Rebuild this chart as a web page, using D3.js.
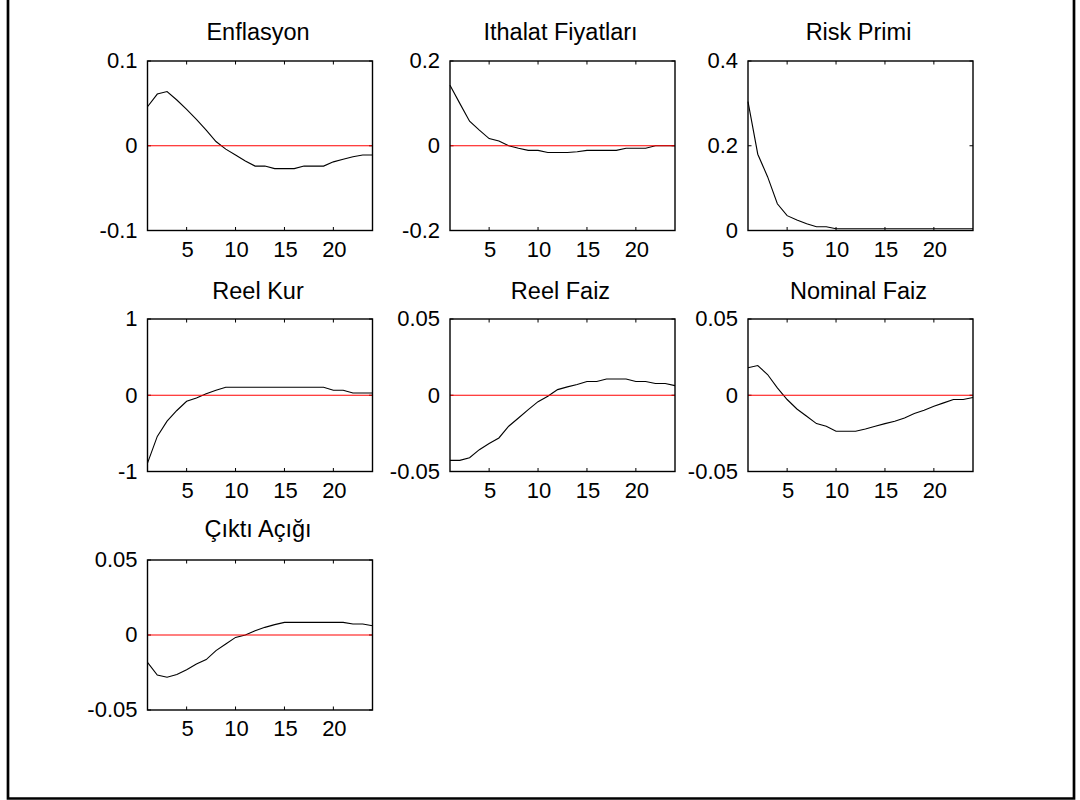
<!DOCTYPE html>
<html>
<head>
<meta charset="utf-8">
<script src="https://cdn.jsdelivr.net/npm/d3@7"></script>
<style>
  body { margin: 0; background: #fff; }
  text { font-family: Arial, "Liberation Sans", sans-serif; fill: #000; }
</style>
</head>
<body>
<div id="chart"></div>
<script>
(function() {
  // periods 1..24
  var periods = d3.range(1, 25);

  var titles = ["Enflasyon", "Ithalat Fiyatları", "Risk Primi", "Reel Kur", "Reel Faiz", "Nominal Faiz", "Çıktı Açığı"];

  var yTicks = [
    [-0.1, 0, 0.1],
    [-0.2, 0, 0.2],
    [0, 0.2, 0.4],
    [-1, 0, 1],
    [-0.05, 0, 0.05],
    [-0.05, 0, 0.05],
    [-0.05, 0, 0.05]
  ];
  var yTickLabels = [
    ["-0.1", "0", "0.1"],
    ["-0.2", "0", "0.2"],
    ["0", "0.2", "0.4"],
    ["-1", "0", "1"],
    ["-0.05", "0", "0.05"],
    ["-0.05", "0", "0.05"],
    ["-0.05", "0", "0.05"]
  ];
  var xTicks = [5, 10, 15, 20];

  var enflasyon = [0.046, 0.061, 0.064, 0.054, 0.043, 0.031, 0.0185, 0.005, -0.004, -0.011, -0.018, -0.024,
                   -0.024, -0.027, -0.027, -0.027, -0.024, -0.024, -0.024, -0.019, -0.016, -0.013, -0.011, -0.011];
  var ithalat = [0.143, 0.100, 0.058, 0.037, 0.017, 0.011, 0.0, -0.006, -0.011, -0.011, -0.016, -0.016,
                 -0.016, -0.014, -0.011, -0.011, -0.011, -0.011, -0.006, -0.006, -0.006, 0.0, 0.0, 0.0];
  var riskPrimi = [0.304, 0.18, 0.127, 0.063, 0.035, 0.025, 0.016, 0.009, 0.009, 0.004, 0.004, 0.004,
                   0.004, 0.004, 0.004, 0.004, 0.004, 0.004, 0.004, 0.004, 0.004, 0.004, 0.004, 0.004];
  var reelKur = [-0.89, -0.54, -0.34, -0.20, -0.08, -0.035, 0.02, 0.066, 0.105, 0.105, 0.105, 0.105,
                 0.105, 0.105, 0.105, 0.105, 0.105, 0.105, 0.105, 0.066, 0.066, 0.03, 0.03, 0.03];
  var reelFaiz = [-0.0427, -0.0427, -0.041, -0.0357, -0.0317, -0.028, -0.0203, -0.0149, -0.0094, -0.0042, -0.0007, 0.0037,
                  0.0055, 0.007, 0.009, 0.009, 0.0107, 0.0107, 0.0107, 0.009, 0.009, 0.0077, 0.0077, 0.0063];
  var nominalFaiz = [0.018, 0.0195, 0.0136, 0.0048, -0.0028, -0.009, -0.0138, -0.0186, -0.0203, -0.0236, -0.0236, -0.0236,
                     -0.0221, -0.0203, -0.0186, -0.0171, -0.0149, -0.012, -0.0098, -0.0072, -0.005, -0.0028, -0.0028, -0.0015];
  var ciktiAcigi = [-0.0182, -0.0267, -0.0282, -0.0264, -0.0231, -0.0193, -0.0164, -0.0104, -0.006, -0.0016, 0.0, 0.0029,
                    0.0051, 0.0069, 0.0084, 0.0084, 0.0084, 0.0084, 0.0084, 0.0084, 0.0084, 0.0073, 0.0073, 0.0062];

  var series = [enflasyon, ithalat, riskPrimi, reelKur, reelFaiz, nominalFaiz, ciktiAcigi];

  var width = 1080,
      height = 800;

  var colLeft = [147.5, 450, 748],
      panelW = 225;
  var rowTop = [61, 319, 560],
      rowBottom = [230.5, 471.5, 710],
      titleGap = [21, 20, 23];

  var svg = d3.select("#chart")
    .append("svg")
      .attr("width", width)
      .attr("height", height);

  // outer figure frame (top edge cut off)
  svg.append("path")
    .attr("d", "M8,-5 V798.5 H1074 V-5")
    .attr("fill", "none")
    .attr("stroke", "#000")
    .attr("stroke-width", 2.7);

  var line = function(x, y) {
    return d3.line()
      .x(function(d, i) { return x(periods[i]); })
      .y(function(d) { return y(d); });
  };

  series.forEach(function(data, k) {
    var row = Math.floor(k / 3),
        col = k % 3;
    var x0 = colLeft[col],
        x1 = x0 + panelW,
        y0 = rowTop[row],
        y1 = rowBottom[row];

    var yt = yTicks[k];
    var x = d3.scaleLinear().domain([1, 24]).range([x0, x1]);
    var y = d3.scaleLinear().domain([yt[0], yt[2]]).range([y1, y0]);

    var g = svg.append("g").attr("class", "panel");

    // inward ticks
    var ticks = g.append("g")
      .attr("stroke", "#000")
      .attr("stroke-width", 1);
    xTicks.forEach(function(t) {
      ticks.append("line")
        .attr("x1", x(t)).attr("x2", x(t))
        .attr("y1", y1).attr("y2", y1 - 3.5);
      ticks.append("line")
        .attr("x1", x(t)).attr("x2", x(t))
        .attr("y1", y0).attr("y2", y0 + 3.5);
    });
    yt.forEach(function(t) {
      ticks.append("line")
        .attr("x1", x0).attr("x2", x0 + 3.5)
        .attr("y1", y(t)).attr("y2", y(t));
      ticks.append("line")
        .attr("x1", x1).attr("x2", x1 - 3.5)
        .attr("y1", y(t)).attr("y2", y(t));
    });

    // data line
    g.append("path")
      .datum(data)
      .attr("fill", "none")
      .attr("stroke", "#000")
      .attr("stroke-width", 1.1)
      .attr("d", line(x, y));

    // zero line
    g.append("line")
      .attr("x1", x0).attr("x2", x1)
      .attr("y1", y(0)).attr("y2", y(0))
      .attr("stroke", "#ff0000")
      .attr("stroke-width", 1.1);

    // axes box
    g.append("rect")
      .attr("x", x0).attr("y", y0)
      .attr("width", x1 - x0).attr("height", y1 - y0)
      .attr("fill", "none")
      .attr("stroke", "#000")
      .attr("stroke-width", 1.4);

    // y tick labels
    g.selectAll(".ylab")
      .data(yt)
      .enter().append("text")
        .attr("class", "ylab")
        .attr("x", x0 - 10)
        .attr("y", function(d) { return y(d); })
        .attr("dy", "0.33em")
        .attr("text-anchor", "end")
        .style("font-size", "22px")
        .text(function(d, i) { return yTickLabels[k][i]; });

    // x tick labels
    g.selectAll(".xlab")
      .data(xTicks)
      .enter().append("text")
        .attr("class", "xlab")
        .attr("x", function(d) { return x(d) + 1; })
        .attr("y", y1 + 26)
        .attr("text-anchor", "middle")
        .style("font-size", "22px")
        .text(function(d) { return d; });

    // title
    g.append("text")
      .attr("x", (x0 + x1) / 2 - 2)
      .attr("y", y0 - titleGap[row])
      .attr("text-anchor", "middle")
      .style("font-size", "23.5px")
      .text(titles[k]);
  });
})();
</script>
</body>
</html>
